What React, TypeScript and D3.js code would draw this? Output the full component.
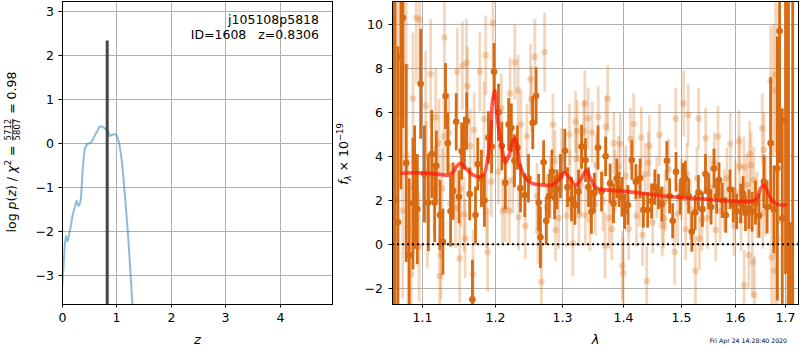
import React, { useEffect, useRef } from "react";
import * as d3 from "d3";

// ---------------- Left panel: p(z) ----------------
const pzZ = [0.0, 0.024, 0.055, 0.074, 0.098, 0.129, 0.16, 0.197, 0.239, 0.27, 0.30, 0.344, 0.38, 0.423, 0.483, 0.52, 0.545, 0.607, 0.65, 0.70, 0.75, 0.80, 0.85, 0.88, 0.92, 0.97, 1.0, 1.035, 1.097, 1.158, 1.22, 1.263, 1.30, 1.34];
const pzLog = [-3.3, -2.89, -2.28, -2.11, -2.24, -2.09, -1.9, -1.63, -1.45, -1.31, -1.43, -1.29, -0.61, -0.12, -0.01, 0.0, 0.03, 0.18, 0.27, 0.38, 0.36, 0.32, 0.26, 0.16, 0.19, 0.2, 0.18, 0.07, -0.39, -1.22, -2.2, -3.04, -3.8, -4.5];
const zBest = 0.8306;
const zBestTop = 2.33;
const zTicks = [0, 1, 2, 3, 4];
const logpTicks = [-3, -2, -1, 0, 1, 2, 3];
const objName = "j105108p5818";
const objId = 1608;
const chi2Num = "5712";
const chi2Den = "5807";
const chi2Val = "0.98";
const timestamp = "Fri Apr 24 14:28:40 2020";

// ---------------- Right panel: spectrum ----------------
const lamTicks = [1.1, 1.2, 1.3, 1.4, 1.5, 1.6, 1.7];
const fluxTicks = [-2, 0, 2, 4, 6, 8, 10];

const modelLam = [1.0735, 1.0974, 1.1237, 1.1355, 1.1414, 1.1463, 1.1517, 1.1576, 1.1635, 1.171, 1.1776, 1.1846, 1.1886, 1.1917, 1.1942, 1.1963, 1.1996, 1.2026, 1.2051, 1.21, 1.215, 1.2199, 1.225, 1.2289, 1.2325, 1.2374, 1.245, 1.255, 1.2702, 1.2849, 1.2953, 1.3033, 1.3112, 1.3218, 1.3298, 1.3388, 1.3456, 1.3536, 1.3615, 1.3999, 1.4424, 1.4869, 1.5409, 1.5965, 1.6335, 1.6435, 1.6502, 1.6568, 1.6636, 1.6737, 1.6837, 1.7003];
const modelFlux = [3.23, 3.25, 3.18, 3.15, 3.3, 3.55, 3.68, 3.5, 3.3, 3.12, 3.07, 3.2, 3.7, 4.29, 5.3, 6.4, 7.0, 6.0, 5.35, 4.44, 3.71, 3.98, 4.59, 4.82, 4.36, 3.53, 3.0, 2.77, 2.7, 2.7, 2.92, 3.26, 3.07, 2.7, 2.92, 3.35, 3.0, 2.59, 2.5, 2.42, 2.29, 2.16, 2.06, 1.97, 1.97, 2.09, 2.54, 2.7, 2.4, 1.98, 1.82, 1.79];

// [wavelength, flux, error]
const darkPoints: [number, number, number][] = [
  [1.062, 4.0, 9], [1.0645, 2.0, 9], [1.0683, 1.0, 8], [1.0722, 8.5, 6], [1.0748, 10.3, 5],
  [1.0789, 3.7, 4.5], [1.0828, -0.5, 3.5], [1.0877, 1.86, 3], [1.0899, 2.6, 2.8], [1.0934, 1.6, 2.5],
  [1.0978, 7.3, 2.5], [1.1027, 3.2, 2.2], [1.108, 1.9, 2.2], [1.1124, 4.1, 2], [1.1164, 1.9, 1.8],
  [1.1186, 3.57, 1.6], [1.1235, 1.33, 1.6], [1.1275, 0.12, 1.5], [1.131, 6.74, 1.5], [1.1341, 4.6, 1.4],
  [1.1379, 1.5, 1.6], [1.1414, 2.42, 1.3], [1.1456, 5.57, 1.3], [1.1494, 2.16, 1.2], [1.1531, 4.24, 1.3],
  [1.1569, 4.6, 1.2], [1.1601, 5.6, 1.3], [1.1643, 2.29, 1.2], [1.1681, -2.5, 1.8], [1.1724, 1.33, 1.3],
  [1.1756, 3.65, 1.2], [1.1808, 3.0, 1.3], [1.185, 2.0, 1.2], [1.1906, 4.85, 1.2], [1.1953, 4.44, 1.2],
  [1.1987, 7.85, 1.3], [1.2051, 6.0, 1.3], [1.21, 4.47, 1.1], [1.215, 2.8, 1.2], [1.2199, 5.45, 1.2],
  [1.2239, 5.3, 1.1], [1.2284, 3.8, 1.2], [1.2329, 4.4, 1.0], [1.2374, 2.55, 1.1], [1.2438, 2.24, 1.0],
  [1.2493, 3.0, 1.1], [1.2557, 5.53, 1.2], [1.2608, 6.75, 1.3], [1.2647, 1.9, 1.3], [1.2673, 0.32, 1.4],
  [1.2722, 3.73, 1.0], [1.2762, 1.07, 1.1], [1.2807, 2.2, 1.0], [1.2849, 3.3, 1.0], [1.289, 2.14, 1.0],
  [1.2928, 2.5, 0.9], [1.2981, 3.1, 1.0], [1.3049, 4.25, 1.0], [1.3092, 2.6, 0.9], [1.3155, 2.05, 1.0],
  [1.3208, 1.79, 0.9], [1.3266, 2.4, 1.0], [1.3314, 4.44, 1.0], [1.3377, 3.83, 1.0], [1.3425, 2.6, 0.9],
  [1.3472, 1.48, 1.0], [1.352, 2.35, 0.9], [1.3579, 4.4, 1.0], [1.3637, 2.4, 0.9], [1.3704, 4.0, 0.9],
  [1.3778, 2.77, 0.9], [1.3834, 1.86, 0.9], [1.3889, 3.0, 0.9], [1.3927, 2.5, 0.8], [1.3974, 2.16, 0.9],
  [1.4019, 1.5, 0.8], [1.4075, 1.79, 0.9], [1.4142, 3.83, 0.9], [1.4209, 2.85, 0.8], [1.4283, 3.0, 0.9],
  [1.4339, 1.56, 0.8], [1.4412, 1.56, 0.8], [1.448, 1.97, 0.8], [1.4537, 2.6, 0.8], [1.46, 2.4, 0.8],
  [1.4659, 1.83, 0.8], [1.4748, 3.8, 0.9], [1.4797, 2.2, 0.8], [1.4851, 1.07, 0.8], [1.491, 3.3, 0.9],
  [1.4988, 2.16, 0.8], [1.503, 2.9, 0.8], [1.5078, 3.0, 0.8], [1.5137, 2.2, 0.8], [1.5196, 0.57, 0.9],
  [1.5257, 1.45, 0.8], [1.5316, 2.35, 0.8], [1.539, 1.6, 0.8], [1.5447, 3.2, 0.9], [1.5504, 2.4, 0.8],
  [1.5551, 1.7, 0.8], [1.5605, 3.45, 0.9], [1.5656, 2.2, 0.8], [1.57, 2.92, 0.8], [1.576, 2.0, 0.8],
  [1.5827, 1.33, 0.8], [1.5909, 2.5, 0.9], [1.5969, 1.8, 0.8], [1.6036, 1.5, 0.8], [1.6112, 1.86, 0.9],
  [1.6159, 2.3, 0.8], [1.6206, 1.41, 0.8], [1.6273, 1.6, 0.9], [1.6335, 1.48, 0.9], [1.6401, 1.9, 1.0],
  [1.6471, 1.3, 1.0], [1.6568, 2.85, 1.2], [1.6632, 1.7, 1.2], [1.6702, 4.6, 3.0], [1.6768, 1.59, 2.0],
  [1.6836, 3.45, 6], [1.6882, 9.7, 6], [1.6937, 1.18, 5.0], [1.7003, 5.65, 7.0], [1.7063, 14, 18],
  [1.7103, -6, 7], [1.715, 12, 16],
];

const lightPoints: [number, number, number][] = [
  [1.0640, 8.0, 7], [1.0657, 6.0, 8], [1.0690, 12, 9], [1.0745, 1.53, 4], [1.0789, 8.07, 4], [1.0815, 0.73, 3.5],
  [1.0855, -1.35, 3], [1.0877, 6.63, 3], [1.0921, 10.3, 3], [1.0957, -0.1, 2.5], [1.0965, 10.2, 3],
  [1.1044, 6.3, 2.5], [1.1053, 3.4, 2.2], [1.1066, 1.1, 2.2], [1.111, 7.74, 2.5], [1.1156, 2.45, 2],
  [1.1177, 5.77, 2.2], [1.1222, 4.6, 2], [1.123, -1.44, 2.2], [1.125, -0.49, 2], [1.1266, 2.55, 1.8],
  [1.1288, 4.9, 1.8], [1.1296, 9.4, 2.5], [1.1355, 5.07, 1.8], [1.1376, 1.86, 1.8], [1.1447, 1.64, 1.8],
  [1.147, 7.85, 2], [1.1503, -0.64, 2], [1.1517, 2.5, 1.7], [1.1541, 8.12, 2], [1.1565, 1.36, 1.7],
  [1.1579, 0.27, 1.8], [1.1597, 8.25, 2], [1.1611, 7.2, 1.8], [1.165, 4.47, 1.7], [1.169, -1.36, 2],
  [1.1705, 5.2, 1.7], [1.1784, 7.85, 1.8], [1.1846, 5.7, 1.7], [1.1868, 8.6, 1.8], [1.188, 1.53, 1.7],
  [1.1895, -0.34, 1.8], [1.1948, 2.85, 1.6], [1.1972, 10.07, 2], [1.205, 3.3, 1.5], [1.2093, 6.18, 1.6],
  [1.211, 1.51, 1.5], [1.215, 1.6, 1.5], [1.2209, 1.53, 1.5], [1.222, 6.86, 1.6], [1.226, 2.9, 1.5],
  [1.229, 8.27, 1.7], [1.2339, 7.0, 1.6], [1.2345, 1.23, 1.5], [1.238, 5.45, 1.5], [1.2445, 0.83, 1.5],
  [1.247, 4.9, 1.5], [1.2523, 7.5, 1.6], [1.2538, 6.6, 1.5], [1.2588, 8.53, 1.7], [1.262, 2.2, 1.5],
  [1.2638, 0.6, 1.5], [1.2688, -1.7, 1.8], [1.2737, 8.73, 1.8], [1.277, 1.7, 1.5], [1.2822, 2.55, 1.4],
  [1.2865, 5.45, 1.4], [1.2895, 3.79, 1.4], [1.2905, 0.65, 1.4], [1.2953, 1.2, 1.4], [1.3, 3.9, 1.4],
  [1.308, 1.3, 1.4], [1.3122, 5.0, 1.4], [1.313, 2.9, 1.4], [1.3175, 0.04, 1.5], [1.3218, 5.57, 1.4],
  [1.3228, 3.88, 1.4], [1.3245, 5.15, 1.4], [1.3271, 1.33, 1.4], [1.33, 2.7, 1.4], [1.335, 5.15, 1.4],
  [1.3366, 6.4, 1.5], [1.3375, 1.33, 1.4], [1.342, 5.73, 1.4], [1.345, 1.1, 1.4], [1.3484, 5.09, 1.4],
  [1.3536, 1.83, 1.4], [1.355, 3.6, 1.4], [1.3583, 5.8, 1.4], [1.366, 2.0, 1.4], [1.3694, -0.05, 1.5],
  [1.371, 5.35, 1.4], [1.3738, 6.63, 1.5], [1.376, 1.2, 1.4], [1.3805, 0.7, 1.4], [1.384, 4.6, 1.4],
  [1.386, 2.9, 1.4], [1.3918, 3.55, 1.4], [1.3947, 4.57, 1.4], [1.398, -0.97, 1.6], [1.3995, -1.3, 1.6],
  [1.404, 3.1, 1.4], [1.4088, 0.7, 1.4], [1.4116, 4.8, 1.4], [1.4172, 5.47, 1.4], [1.422, 1.3, 1.4],
  [1.427, 2.2, 1.4], [1.4302, 4.86, 1.4], [1.4323, 0.42, 1.4], [1.437, 3.2, 1.4], [1.4396, -1.67, 1.6],
  [1.4424, 3.7, 1.4], [1.4441, 4.48, 1.4], [1.45, 1.0, 1.4], [1.457, 2.6, 1.4], [1.4618, 4.97, 1.4],
  [1.4665, 0.85, 1.4], [1.469, 1.2, 1.4], [1.472, 2.0, 1.4], [1.478, 3.4, 1.4], [1.4887, -0.34, 1.5],
  [1.4905, 5.72, 1.4], [1.494, 1.4, 1.4], [1.501, 2.5, 1.4], [1.5047, 6.4, 1.5], [1.5085, 0.69, 1.4],
  [1.5107, 3.2, 1.4], [1.513, 5.88, 1.4], [1.517, 1.6, 1.4], [1.5262, -1.2, 1.6], [1.529, 3.0, 1.4],
  [1.532, 5.72, 1.4], [1.5335, 0.26, 1.4], [1.5384, 1.1, 1.4], [1.545, 4.82, 1.4], [1.548, 1.2, 1.4],
  [1.553, 2.6, 1.4], [1.561, 3.7, 1.4], [1.5637, 0.65, 1.4], [1.5681, 4.9, 1.4], [1.572, 1.5, 1.4],
  [1.5795, 2.0, 1.4], [1.585, 3.0, 1.4], [1.5915, 4.57, 1.4], [1.5985, 0.85, 1.4], [1.601, 2.4, 1.4],
  [1.608, 4.68, 1.4], [1.609, 3.55, 1.4], [1.612, 1.1, 1.4], [1.6175, 3.5, 1.4], [1.618, -1.85, 1.6],
  [1.623, 2.7, 1.4], [1.627, -0.5, 1.5], [1.6288, 4.1, 1.5], [1.6315, 3.6, 1.5], [1.634, -0.8, 1.6],
  [1.6367, 2.92, 1.5], [1.6381, -2.3, 1.8], [1.643, 1.8, 1.5], [1.6535, 5.27, 1.6], [1.6545, 1.4, 1.6],
  [1.6568, 4.3, 1.7], [1.66, 2.2, 1.8], [1.6702, 7.42, 2.5], [1.6722, -0.6, 2.5], [1.6756, 7.0, 3],
  [1.6782, -1.2, 3], [1.6802, 7.7, 3.5], [1.6836, 0.27, 4], [1.6868, 5.9, 5], [1.7035, 4.05, 8],
];

const ORANGE = "#d86a12";
const FONT = "'DejaVu Sans', sans-serif";

export default function App() {
  const ref = useRef<SVGSVGElement>(null);

  useEffect(() => {
    const svg = d3.select(ref.current as SVGSVGElement);
    svg.selectAll("*").remove();
    const defs = svg.append("defs");

    const tickLen = 3.5;
    const gridColor = "#b0b0b0";

    // ================= LEFT PANEL =================
    const L = { x0: 62, x1: 333, y0: 1, y1: 304 };
    const xz = d3.scaleLinear().domain([0, 4.98]).range([L.x0, L.x1]);
    const yp = d3.scaleLinear().domain([-3.66, 3.23]).range([L.y1, L.y0]);

    defs.append("clipPath").attr("id", "clipL").append("rect")
      .attr("x", L.x0).attr("y", L.y0).attr("width", L.x1 - L.x0).attr("height", L.y1 - L.y0);

    const gL = svg.append("g");
    const gridL = gL.append("g").attr("stroke", gridColor).attr("stroke-width", 1).attr("shape-rendering", "crispEdges");
    zTicks.forEach((t) => gridL.append("line").attr("x1", Math.round(xz(t)) + 0.5).attr("x2", Math.round(xz(t)) + 0.5).attr("y1", L.y0).attr("y2", L.y1));
    logpTicks.forEach((t) => gridL.append("line").attr("y1", Math.round(yp(t)) + 0.5).attr("y2", Math.round(yp(t)) + 0.5).attr("x1", L.x0).attr("x2", L.x1));

    const plotL = gL.append("g").attr("clip-path", "url(#clipL)");
    const lineL = d3.line<number>().x((_, i) => xz(pzZ[i])).y((d) => yp(d)).curve(d3.curveMonotoneX);
    plotL.append("path").attr("d", lineL(pzLog) as string).attr("fill", "none")
      .attr("stroke", "#1f77b4").attr("stroke-opacity", 0.5).attr("stroke-width", 2);
    plotL.append("line").attr("x1", xz(zBest)).attr("x2", xz(zBest)).attr("y1", yp(-3.66)).attr("y2", yp(zBestTop))
      .attr("stroke", "#333333").attr("stroke-opacity", 0.9).attr("stroke-width", 3);

    gL.append("rect").attr("x", L.x0 + 0.5).attr("y", L.y0 + 0.5).attr("width", L.x1 - L.x0 - 1).attr("height", L.y1 - L.y0)
      .attr("fill", "none").attr("stroke", "#000").attr("stroke-width", 1).attr("shape-rendering", "crispEdges");

    zTicks.forEach((t) => {
      const x = Math.round(xz(t)) + 0.5;
      gL.append("line").attr("x1", x).attr("x2", x).attr("y1", L.y1).attr("y2", L.y1 + tickLen).attr("stroke", "#000");
      gL.append("text").attr("x", x).attr("y", L.y1 + 17.5).attr("text-anchor", "middle")
        .attr("font-family", FONT).attr("font-size", 12.5).text(d3.format("d")(t));
    });
    logpTicks.forEach((t) => {
      const y = Math.round(yp(t)) + 0.5;
      gL.append("line").attr("x1", L.x0 - tickLen).attr("x2", L.x0).attr("y1", y).attr("y2", y).attr("stroke", "#000");
      gL.append("text").attr("x", L.x0 - 8).attr("y", y + 4.5).attr("text-anchor", "end")
        .attr("font-family", FONT).attr("font-size", 12.5).text(t < 0 ? "\u2212" + Math.abs(t) : String(t));
    });

    // annotation
    gL.append("text").attr("x", 319).attr("y", 24).attr("text-anchor", "end").attr("font-family", FONT).attr("font-size", 12.5).text(objName);
    gL.append("text").attr("x", 319).attr("y", 39).attr("text-anchor", "end").attr("font-family", FONT).attr("font-size", 12.5)
      .attr("xml:space", "preserve").text(`ID=${objId}   z=${zBest.toFixed(4)}`);

    // x label
    gL.append("text").attr("x", (L.x0 + L.x1) / 2).attr("y", 344).attr("text-anchor", "middle")
      .attr("font-family", FONT).attr("font-size", 13).attr("font-style", "italic").text("z");

    // y label (rotated, with fraction)
    const yl = svg.append("g").attr("transform", "translate(16,152) rotate(-90)").attr("font-family", FONT);
    const t1 = yl.append("text").attr("font-size", 12.5).attr("xml:space", "preserve");
    t1.append("tspan").text("log ");
    t1.append("tspan").attr("font-style", "italic").text("p");
    t1.append("tspan").text("(");
    t1.append("tspan").attr("font-style", "italic").text("z");
    t1.append("tspan").text(") / ");
    t1.append("tspan").attr("font-style", "italic").text("\u03c7");
    t1.append("tspan").attr("font-size", 9).attr("dy", -5).text("2");
    t1.append("tspan").attr("dy", 5).text(" = ");
    const w1 = (t1.node() as SVGTextElement).getComputedTextLength();
    const num = yl.append("text").attr("font-size", 8.5).attr("text-anchor", "middle").text(chi2Num);
    const den = yl.append("text").attr("font-size", 8.5).attr("text-anchor", "middle").text(chi2Den);
    const wf = Math.max((num.node() as SVGTextElement).getComputedTextLength(), (den.node() as SVGTextElement).getComputedTextLength());
    const t3 = yl.append("text").attr("font-size", 12.5).attr("xml:space", "preserve").text(" = " + chi2Val);
    const w3 = (t3.node() as SVGTextElement).getComputedTextLength();
    const total = w1 + wf + 2 + w3;
    const sx = -total / 2;
    t1.attr("x", sx).attr("y", 0);
    const fc = sx + w1 + 1 + wf / 2;
    num.attr("x", fc).attr("y", -4.8);
    den.attr("x", fc).attr("y", 3.6);
    yl.append("line").attr("x1", fc - wf / 2).attr("x2", fc + wf / 2).attr("y1", -3.4).attr("y2", -3.4).attr("stroke", "#000").attr("stroke-width", 0.7);
    t3.attr("x", sx + w1 + wf + 2).attr("y", 0);

    // ================= RIGHT PANEL =================
    const R = { x0: 392, x1: 799, y0: 1, y1: 304 };
    const xl = d3.scaleLog().domain([1.0607, 1.728]).range([R.x0, R.x1]);
    const yf = d3.scaleLinear().domain([-2.71, 11.06]).range([R.y1, R.y0]);

    defs.append("clipPath").attr("id", "clipR").append("rect")
      .attr("x", R.x0).attr("y", R.y0).attr("width", R.x1 - R.x0).attr("height", R.y1 - R.y0);

    const gR = svg.append("g");
    const gridR = gR.append("g").attr("stroke", gridColor).attr("stroke-width", 1).attr("shape-rendering", "crispEdges");
    lamTicks.forEach((t) => gridR.append("line").attr("x1", Math.round(xl(t)) + 0.5).attr("x2", Math.round(xl(t)) + 0.5).attr("y1", R.y0).attr("y2", R.y1));
    fluxTicks.forEach((t) => gridR.append("line").attr("y1", Math.round(yf(t)) + 0.5).attr("y2", Math.round(yf(t)) + 0.5).attr("x1", R.x0).attr("x2", R.x1));

    const plotR = gR.append("g").attr("clip-path", "url(#clipR)");
    const drawPts = (pts: [number, number, number][], op: number) => {
      const g = plotR.append("g");
      pts.forEach(([l, f, e]) => {
        g.append("line").attr("x1", xl(l)).attr("x2", xl(l)).attr("y1", yf(f - e)).attr("y2", yf(f + e))
          .attr("stroke", ORANGE).attr("stroke-opacity", op).attr("stroke-width", 2.8);
        g.append("circle").attr("cx", xl(l)).attr("cy", yf(f)).attr("r", 3.3).attr("fill", ORANGE).attr("fill-opacity", op);
      });
    };
    drawPts(lightPoints, 0.28);
    drawPts(darkPoints, 1);

    const mline = d3.line<number>().x((_, i) => xl(modelLam[i])).y((d) => yf(d)).curve(d3.curveCatmullRom.alpha(0.5));
    plotR.append("path").attr("d", mline(modelFlux) as string).attr("fill", "none")
      .attr("stroke", "#ff1a0a").attr("stroke-opacity", 0.72).attr("stroke-width", 3.6)
      .attr("stroke-linejoin", "round").attr("stroke-linecap", "round");

    plotR.append("line").attr("x1", R.x0).attr("x2", R.x1).attr("y1", yf(0)).attr("y2", yf(0))
      .attr("stroke", "#000").attr("stroke-width", 2).attr("stroke-dasharray", "2,3");

    gR.append("rect").attr("x", R.x0 + 0.5).attr("y", R.y0 + 0.5).attr("width", R.x1 - R.x0 - 1).attr("height", R.y1 - R.y0)
      .attr("fill", "none").attr("stroke", "#000").attr("stroke-width", 1).attr("shape-rendering", "crispEdges");

    lamTicks.forEach((t) => {
      const x = Math.round(xl(t)) + 0.5;
      gR.append("line").attr("x1", x).attr("x2", x).attr("y1", R.y1).attr("y2", R.y1 + tickLen).attr("stroke", "#000");
      gR.append("text").attr("x", x).attr("y", R.y1 + 17.5).attr("text-anchor", "middle")
        .attr("font-family", FONT).attr("font-size", 12.5).text(d3.format(".1f")(t));
    });
    fluxTicks.forEach((t) => {
      const y = Math.round(yf(t)) + 0.5;
      gR.append("line").attr("x1", R.x0 - tickLen).attr("x2", R.x0).attr("y1", y).attr("y2", y).attr("stroke", "#000");
      gR.append("text").attr("x", R.x0 - 9).attr("y", y + 4.5).attr("text-anchor", "end")
        .attr("font-family", FONT).attr("font-size", 12.5).text(t < 0 ? "\u2212" + Math.abs(t) : String(t));
    });

    gR.append("text").attr("x", (R.x0 + R.x1) / 2).attr("y", 344).attr("text-anchor", "middle")
      .attr("font-family", FONT).attr("font-size", 13).attr("font-style", "italic").text("\u03bb");

    const yr = svg.append("g").attr("transform", "translate(348,154) rotate(-90)");
    const tr = yr.append("text").attr("text-anchor", "middle").attr("font-family", FONT).attr("font-size", 12.5).attr("xml:space", "preserve");
    tr.append("tspan").attr("font-style", "italic").text("f");
    tr.append("tspan").attr("font-size", 8.5).attr("font-style", "italic").attr("dy", 2.5).text("\u03bb");
    tr.append("tspan").attr("dy", -2.5).text(" \u00d7 10");
    tr.append("tspan").attr("font-size", 8.5).attr("dy", -5).text("\u221219");

    svg.append("text").attr("x", 787).attr("y", 343).attr("text-anchor", "end")
      .attr("font-family", FONT).attr("font-size", 6.2).text(timestamp);
  }, []);

  return (
    <svg
      ref={ref}
      width={800}
      height={350}
      style={{ position: "fixed", left: 0, top: 0, background: "#ffffff", display: "block" }}
    />
  );
}
